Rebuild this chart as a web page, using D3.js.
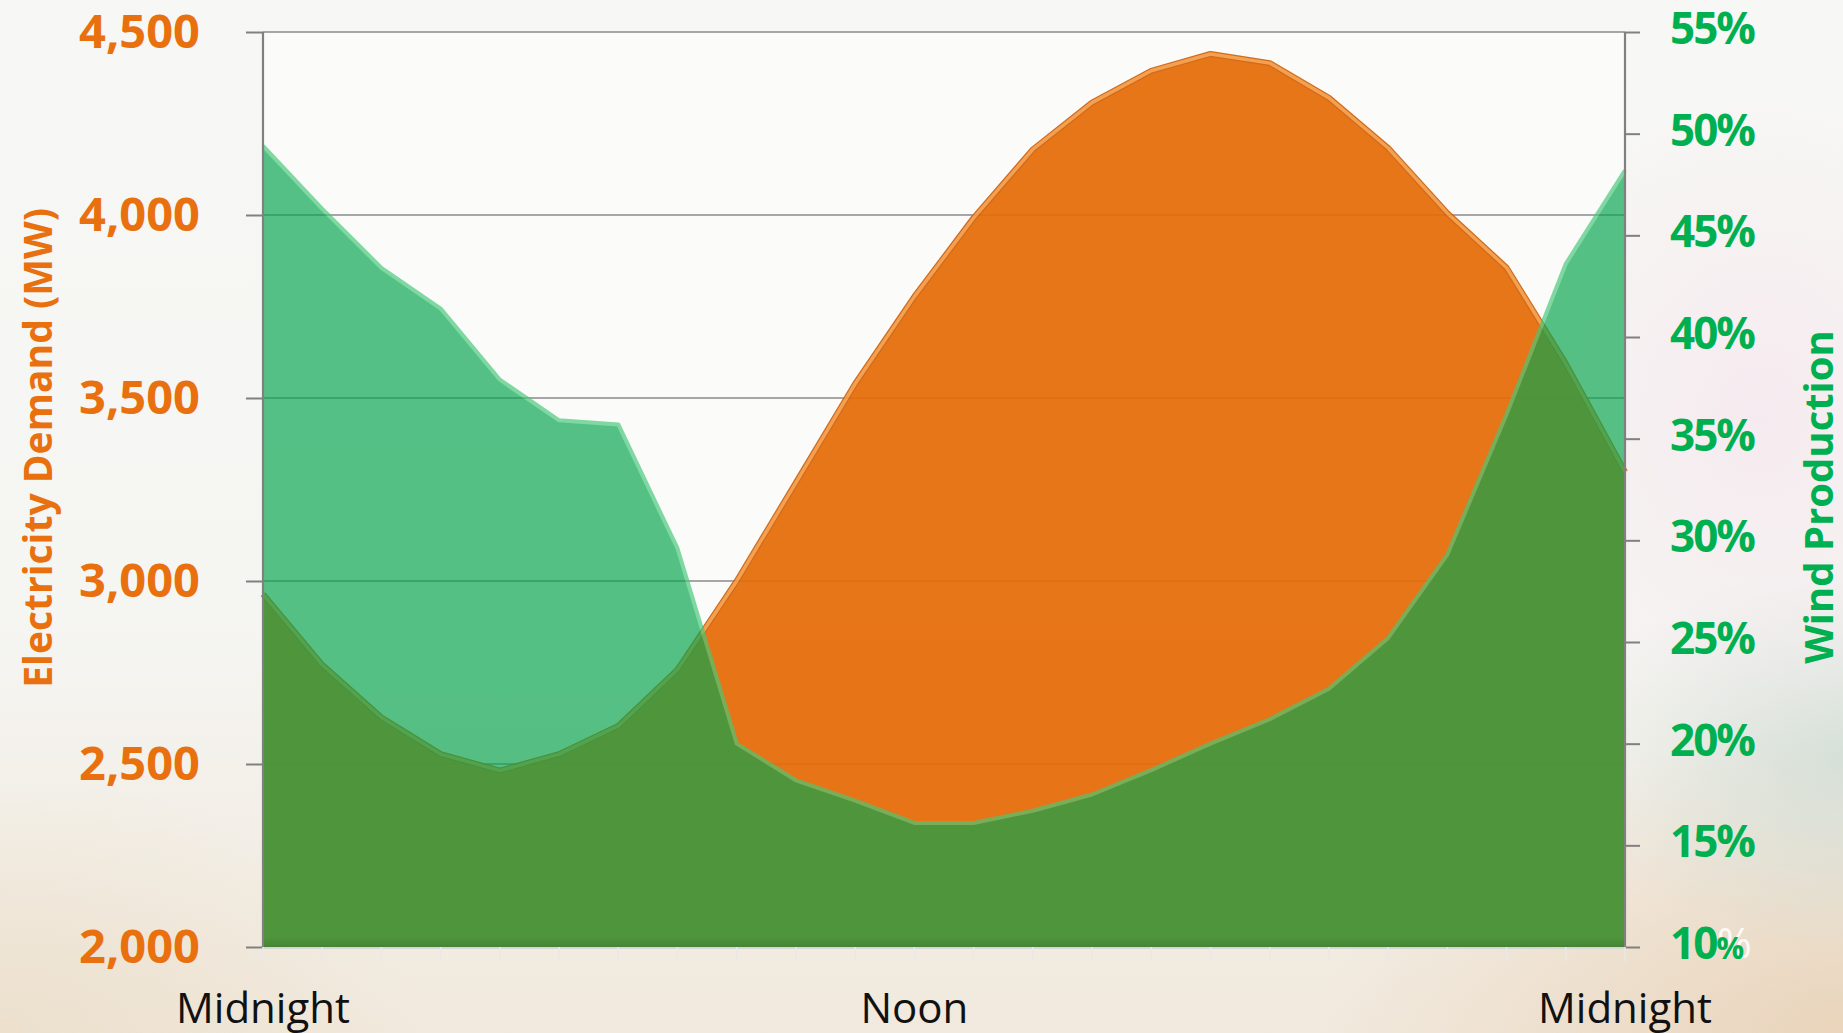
<!DOCTYPE html>
<html>
<head>
<meta charset="utf-8">
<script src="https://cdn.jsdelivr.net/npm/d3@7"></script>
<style>
  html, body { margin: 0; padding: 0; background: #f6f6f4; }
  svg { display: block; }
</style>
</head>
<body>
<svg id="chart" width="1843" height="1033"></svg>
<script>
// ---------- data ----------
const hours = [0, 1, 2, 3, 4, 5, 6, 7, 8, 9, 10, 11, 12, 13, 14, 15, 16, 17, 18, 19, 20, 21, 22, 23];
const demandMW = [2964, 2771, 2627, 2527, 2482, 2527, 2604, 2758, 3000, 3269, 3539, 3777,
                  3992, 4179, 4307, 4394, 4440, 4415, 4320, 4183, 4005, 3856, 3594, 3298];
const windPct = [49.4, 46.3, 43.4, 41.4, 37.9, 35.9, 35.7, 29.6, 20.0, 18.2, 17.2, 16.1,
                 16.1, 16.7, 17.5, 18.7, 20.0, 21.2, 22.7, 25.2, 29.3, 36.2, 43.6, 48.2];
const xTickHours = [0, 11, 23];
const xTickLabels = ["Midnight", "Noon", "Midnight"];
const leftTicks = [2000, 2500, 3000, 3500, 4000, 4500];
const rightTicks = [10, 15, 20, 25, 30, 35, 40, 45, 50, 55];
const leftTitle = "Electricity Demand (MW)";
const rightTitle = "Wind Production";

// ---------- layout ----------
const W = 1843, H = 1033;
const plot = { left: 263, right: 1625, top: 32, bottom: 947 };
const svg = d3.select("#chart");
const defs = svg.append("defs");

// background
const bgLin = defs.append("linearGradient").attr("id", "bgLin").attr("x1", 0).attr("y1", 0).attr("x2", 0).attr("y2", 1);
bgLin.append("stop").attr("offset", 0).attr("stop-color", "#f7f7f5");
bgLin.append("stop").attr("offset", 0.6).attr("stop-color", "#f5f5f2");
bgLin.append("stop").attr("offset", 1).attr("stop-color", "#f1e9dd");
svg.append("rect").attr("width", W).attr("height", H).attr("fill", "url(#bgLin)");

function radial(id, color, op) {
  const g = defs.append("radialGradient").attr("id", id);
  g.append("stop").attr("offset", 0).attr("stop-color", color).attr("stop-opacity", op);
  g.append("stop").attr("offset", 1).attr("stop-color", color).attr("stop-opacity", 0);
}
radial("rgBR", "#e9d2b8", 0.9);
radial("rgBL", "#eadcc6", 0.7);
radial("rgRM", "#cfdcd4", 0.8);
radial("rgTR", "#f6e9ef", 0.9);
svg.append("ellipse").attr("cx", 1843).attr("cy", 1033).attr("rx", 520).attr("ry", 300).attr("fill", "url(#rgBR)");
svg.append("ellipse").attr("cx", 0).attr("cy", 1033).attr("rx", 420).attr("ry", 260).attr("fill", "url(#rgBL)");
svg.append("ellipse").attr("cx", 1843).attr("cy", 760).attr("rx", 260).attr("ry", 200).attr("fill", "url(#rgRM)");
svg.append("ellipse").attr("cx", 1760).attr("cy", 420).attr("rx", 260).attr("ry", 320).attr("fill", "url(#rgTR)");

// plot area
svg.append("rect").attr("x", plot.left).attr("y", plot.top)
  .attr("width", plot.right - plot.left).attr("height", plot.bottom - plot.top)
  .attr("fill", "#ffffff").attr("opacity", 0.55);

// ---------- scales ----------
const x = d3.scalePoint().domain(hours).range([plot.left, plot.right]);
const yL = d3.scaleLinear().domain([2000, 4500]).range([plot.bottom, plot.top]);
const yR = d3.scaleLinear().domain([10, 55]).range([plot.bottom, plot.top]);

// gridlines
svg.append("g").selectAll("line").data(leftTicks).join("line")
  .attr("x1", plot.left).attr("x2", plot.right)
  .attr("y1", d => yL(d)).attr("y2", d => yL(d))
  .attr("stroke", "#8a8a8a").attr("stroke-width", 1.6);

// ---------- demand area ----------
const demandArea = d3.area().x((d, i) => x(hours[i])).y0(plot.bottom).y1(d => yL(d));
const demandLine = d3.line().x((d, i) => x(hours[i])).y(d => yL(d));
const gD = svg.append("g").attr("opacity", 0.93);
gD.append("path").attr("d", demandArea(demandMW)).attr("fill", "#e66c07");
gD.append("path").attr("d", demandLine(demandMW)).attr("fill", "none")
  .attr("stroke", "#d0600a").attr("stroke-width", 6).attr("stroke-linejoin", "round");
gD.append("path").attr("d", demandLine(demandMW)).attr("fill", "none")
  .attr("stroke", "#f39a45").attr("stroke-width", 3.5).attr("stroke-linejoin", "round");

// ---------- wind area ----------
const windArea = d3.area().x((d, i) => x(hours[i])).y0(plot.bottom).y1(d => yR(d));
const windLine = d3.line().x((d, i) => x(hours[i])).y(d => yR(d));
const gW = svg.append("g").attr("opacity", 0.68);
gW.append("path").attr("d", windArea(windPct)).attr("fill", "rgb(8,165,78)");
gW.append("path").attr("d", windLine(windPct)).attr("fill", "none")
  .attr("stroke", "rgb(70,200,120)").attr("stroke-width", 4).attr("stroke-linejoin", "round");

// bottom inner shadow
const sh = defs.append("linearGradient").attr("id", "shB").attr("x1", 0).attr("y1", 0).attr("x2", 0).attr("y2", 1);
sh.append("stop").attr("offset", 0).attr("stop-color", "#000").attr("stop-opacity", 0);
sh.append("stop").attr("offset", 1).attr("stop-color", "#000").attr("stop-opacity", 0.12);
svg.append("rect").attr("x", plot.left).attr("y", plot.bottom - 10).attr("width", plot.right - plot.left)
  .attr("height", 10).attr("fill", "url(#shB)");

// ---------- axes ----------
const axisColor = "#808080";
// left axis
const gL = svg.append("g").attr("transform", `translate(${plot.left},0)`)
  .call(d3.axisLeft(yL).tickValues(leftTicks).tickSize(17).tickPadding(46).tickFormat(d3.format(",")));
gL.select(".domain").attr("stroke", axisColor).attr("stroke-width", 2.2).attr("d", `M0,${plot.top}V${plot.bottom}`);
gL.selectAll(".tick line").attr("stroke", axisColor).attr("stroke-width", 2);
gL.selectAll(".tick text").attr("fill", "#e8700f").attr("font-family", "'Open Sans', sans-serif")
  .attr("font-weight", 700).attr("font-size", 47).attr("dy", "0.34em");

// right axis
const gR = svg.append("g").attr("transform", `translate(${plot.right},0)`)
  .call(d3.axisRight(yR).tickValues(rightTicks).tickSize(15).tickPadding(30).tickFormat(d => d + "%"));
gR.select(".domain").attr("stroke", axisColor).attr("stroke-width", 2.2).attr("d", `M0,${plot.top}V${plot.bottom}`);
gR.selectAll(".tick line").attr("stroke", axisColor).attr("stroke-width", 2);
gR.selectAll(".tick text").attr("fill", "#00b050").attr("font-family", "'Open Sans', sans-serif")
  .attr("font-weight", 700).attr("font-size", 44).attr("letter-spacing", -2).attr("dy", "0.26em");
// the bottom "10%" label has a smaller percent sign with a pale ghost behind it
gR.selectAll(".tick").filter(d => d === 10).each(function () {
  const t = d3.select(this).select("text");
  t.text("");
  const xPos = +t.attr("x");
  d3.select(this).insert("text", "text").attr("x", xPos + 47).attr("dy", "0.26em")
    .attr("font-family", "'Open Sans', sans-serif").attr("font-size", 42).attr("fill", "#ffffff")
    .attr("fill-opacity", 0.9).text("%");
  t.append("tspan").text("10");
  t.append("tspan").attr("font-size", 31).text("%");
});

// bottom axis
const gB = svg.append("g");
gB.append("line").attr("x1", plot.left).attr("x2", plot.right).attr("y1", plot.bottom + 1).attr("y2", plot.bottom + 1)
  .attr("stroke", "#d6d6d6").attr("stroke-width", 2);
gB.selectAll("line.tk").data(hours).join("line").attr("class", "tk")
  .attr("x1", d => x(d)).attr("x2", d => x(d)).attr("y1", plot.bottom).attr("y2", plot.bottom + 14)
  .attr("stroke", "#e9e9e9").attr("stroke-width", 1.6);
gB.selectAll("text").data(xTickHours).join("text")
  .attr("x", d => x(d)).attr("y", 1023).attr("text-anchor", "middle")
  .attr("font-family", "'Open Sans', sans-serif").attr("font-size", 42).attr("fill", "#111")
  .text((d, i) => xTickLabels[i]);

// titles
svg.append("text").attr("transform", "translate(52,448) rotate(-90)").attr("text-anchor", "middle")
  .attr("font-family", "'Open Sans', sans-serif").attr("font-weight", 700).attr("font-size", 39)
  .attr("fill", "#e8700f").text(leftTitle);
svg.append("text").attr("transform", "translate(1833,497) rotate(-90)").attr("text-anchor", "middle")
  .attr("font-family", "'Open Sans', sans-serif").attr("font-weight", 700).attr("font-size", 40)
  .attr("fill", "#00b050").text(rightTitle);
</script>
</body>
</html>
